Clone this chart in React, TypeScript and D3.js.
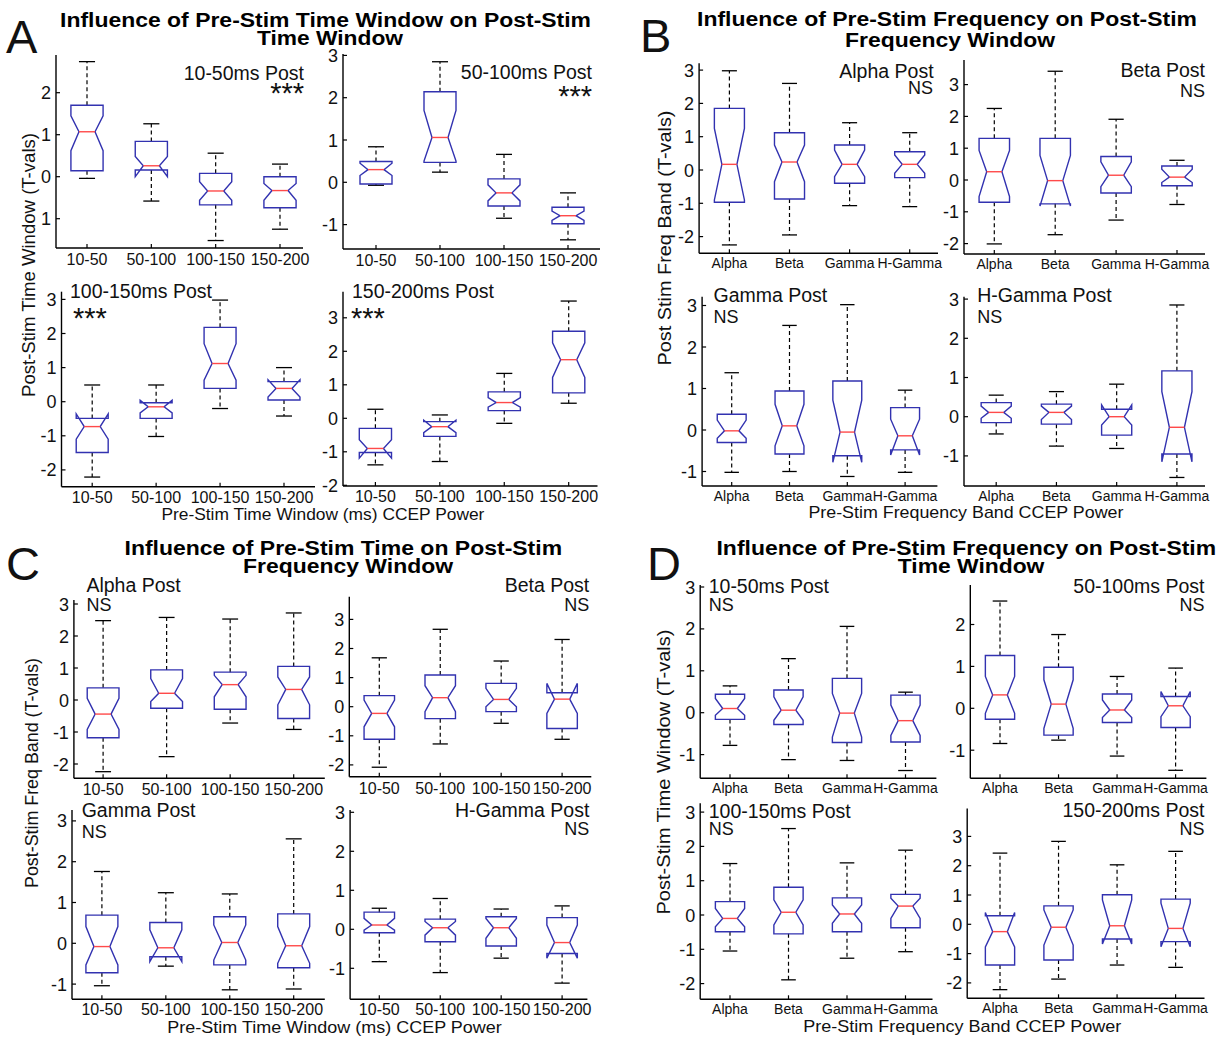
import React from 'react';
import * as d3 from 'd3';

// ---------- categories ----------
const TIME_CATS = ['10-50', '50-100', '100-150', '150-200'];
const FREQ_CATS = ['Alpha', 'Beta', 'Gamma', 'H-Gamma'];

// ---------- box statistics (T-vals) ----------
// each row: [lowWhisker, q1, notchLow, median, notchHigh, q3, highWhisker]
const A_10_50 = [
  [-0.04, 0.14, 0.62, 1.07, 1.45, 1.70, 2.74],
  [-0.58, 0.16, 0.0, 0.26, 0.48, 0.84, 1.26],
  [-1.52, -0.67, -0.56, -0.34, -0.12, 0.08, 0.56],
  [-1.25, -0.74, -0.56, -0.33, -0.16, 0.0, 0.30],
];
const A_50_100 = [
  [-0.07, -0.04, 0.16, 0.30, 0.45, 0.49, 0.84],
  [0.24, 0.47, 0.50, 1.06, 1.70, 2.14, 2.85],
  [-0.85, -0.56, -0.44, -0.25, -0.06, 0.08, 0.66],
  [-1.36, -0.98, -0.90, -0.79, -0.68, -0.59, -0.25],
];
const A_100_150 = [
  [-2.21, -1.49, -1.10, -0.73, -0.36, -0.49, 0.49],
  [-1.02, -0.49, -0.33, -0.15, 0.04, -0.03, 0.49],
  [-0.20, 0.39, 0.63, 1.12, 1.70, 2.18, 2.98],
  [-0.42, 0.05, 0.14, 0.39, 0.64, 0.59, 1.00],
];
const A_150_200 = [
  [-1.39, -1.02, -1.19, -0.90, -0.64, -0.30, 0.27],
  [-1.29, -0.54, -0.43, -0.25, -0.06, -0.10, 0.10],
  [-0.15, 0.23, 0.33, 0.47, 0.62, 0.79, 1.34],
  [0.45, 0.76, 1.22, 1.75, 2.25, 2.60, 3.50],
];
const B_ALPHA = [
  [-2.25, -0.97, -0.90, 0.17, 1.25, 1.85, 2.98],
  [-1.95, -0.87, -0.35, 0.24, 0.75, 1.12, 2.60],
  [-1.07, -0.40, -0.20, 0.17, 0.60, 0.75, 1.42],
  [-1.10, -0.23, -0.10, 0.17, 0.45, 0.55, 1.12],
];
const B_BETA = [
  [-2.01, -0.70, -0.52, 0.26, 0.93, 1.31, 2.25],
  [-1.72, -0.75, -0.82, -0.02, 0.77, 1.31, 3.42],
  [-1.26, -0.41, -0.21, 0.15, 0.57, 0.74, 1.91],
  [-0.77, -0.18, -0.08, 0.09, 0.34, 0.44, 0.62],
];
const B_GAMMA = [
  [-1.02, -0.30, -0.20, -0.02, 0.24, 0.38, 1.38],
  [-1.00, -0.58, -0.38, 0.10, 0.62, 0.94, 2.52],
  [-1.12, -0.62, -0.78, -0.05, 0.72, 1.18, 3.02],
  [-1.02, -0.48, -0.60, -0.14, 0.26, 0.54, 0.96],
];
const B_HGAMMA = [
  [-0.44, -0.15, -0.04, 0.11, 0.27, 0.36, 0.55],
  [-0.75, -0.19, -0.07, 0.11, 0.27, 0.32, 0.64],
  [-0.81, -0.47, -0.21, 0.0, 0.30, 0.19, 0.83],
  [-1.55, -0.95, -1.15, -0.27, 0.64, 1.17, 2.85],
];
const C_ALPHA = [
  [-2.24, -1.18, -0.92, -0.44, 0.05, 0.38, 2.48],
  [-1.77, -0.26, -0.05, 0.21, 0.67, 0.94, 2.58],
  [-0.72, -0.29, 0.10, 0.48, 0.77, 0.87, 2.53],
  [-0.92, -0.58, -0.15, 0.33, 0.72, 1.05, 2.72],
];
const C_BETA = [
  [-2.08, -1.12, -0.69, -0.23, 0.23, 0.38, 1.68],
  [-1.28, -0.41, -0.17, 0.31, 0.72, 1.09, 2.66],
  [-0.57, -0.17, 0.0, 0.25, 0.63, 0.80, 1.57],
  [-1.12, -0.75, -0.23, 0.26, 0.80, 0.48, 2.31],
];
const C_GAMMA = [
  [-1.04, -0.72, -0.53, -0.08, 0.41, 0.69, 1.76],
  [-0.56, -0.33, -0.45, -0.11, 0.33, 0.51, 1.24],
  [-1.14, -0.53, -0.41, 0.02, 0.45, 0.65, 1.21],
  [-1.12, -0.60, -0.49, -0.06, 0.41, 0.72, 2.56],
];
const C_HGAMMA = [
  [-0.83, -0.09, -0.02, 0.11, 0.28, 0.44, 0.54],
  [-1.11, -0.32, -0.15, 0.04, 0.20, 0.26, 0.79],
  [-0.74, -0.43, -0.23, 0.04, 0.28, 0.32, 0.52],
  [-1.38, -0.62, -0.74, -0.34, 0.11, 0.30, 0.60],
];
const D_10_50 = [
  [-0.78, -0.16, -0.06, 0.10, 0.34, 0.44, 0.64],
  [-1.12, -0.28, -0.18, 0.06, 0.38, 0.54, 1.29],
  [-1.14, -0.71, -0.58, -0.01, 0.46, 0.82, 2.06],
  [-1.38, -0.70, -0.54, -0.19, 0.18, 0.42, 0.49],
];
const D_50_100 = [
  [-0.84, -0.26, -0.12, 0.32, 0.76, 1.26, 2.56],
  [-0.76, -0.64, -0.48, 0.10, 0.68, 0.98, 1.76],
  [-1.14, -0.34, -0.22, -0.04, 0.20, 0.34, 0.76],
  [-1.48, -0.46, -0.20, 0.06, 0.40, 0.28, 0.96],
];
const D_100_150 = [
  [-1.05, -0.49, -0.34, -0.10, 0.19, 0.39, 1.50],
  [-1.89, -0.55, -0.29, 0.08, 0.44, 0.81, 2.52],
  [-1.26, -0.49, -0.24, 0.03, 0.29, 0.50, 1.52],
  [-1.07, -0.37, -0.10, 0.26, 0.49, 0.60, 1.89],
];
const D_150_200 = [
  [-2.23, -1.39, -0.77, -0.25, 0.40, 0.29, 2.43],
  [-1.87, -1.22, -0.71, -0.10, 0.49, 0.63, 2.83],
  [-1.39, -0.50, -0.67, -0.05, 0.83, 1.01, 2.03],
  [-1.47, -0.59, -0.77, -0.14, 0.72, 0.86, 2.49],
];

// ---------- text ----------
const PANEL_TITLES = [
  ['Influence of Pre-Stim Time Window on Post-Stim', 'Time Window'],
  ['Influence of Pre-Stim Frequency on Post-Stim', 'Frequency Window'],
  ['Influence of Pre-Stim Time on Post-Stim', 'Frequency Window'],
  ['Influence of Pre-Stim Frequency on Post-Stim', 'Time Window'],
];
const PANEL_LETTERS = ['A', 'B', 'C', 'D'];
const X_LABELS = [
  'Pre-Stim Time Window (ms) CCEP Power',
  'Pre-Stim Frequency Band CCEP Power',
  'Pre-Stim Time Window (ms) CCEP Power',
  'Pre-Stim Frequency Band CCEP Power',
];
const Y_LABELS = [
  'Post-Stim Time Window (T-vals)',
  'Post Stim Freq Band (T-vals)',
  'Post-Stim Freq Band (T-vals)',
  'Post-Stim Time Window (T-vals)',
];

// ---------- layout (pixels) ----------
type Sub = {
  data: number[][]; cats: string[]; label: string; sig: string;
  axL: number; axR: number; top: number; bottom: number; c1: number; c4: number;
  y0: number; ppu: number; anchor: 'start' | 'end'; lx: number; ly: number; sx: number; sy: number;
  tfs: number; tdy: number; sigBig: boolean; hideMinus?: boolean;
};

const SUBS: Sub[] = [
  { data: A_10_50, cats: TIME_CATS, label: '10-50ms Post', sig: '***', axL: 56, axR: 303, top: 55, bottom: 248, c1: 87, c4: 280, y0: 176.7, ppu: 42, anchor: 'end', lx: 304, ly: 80, sx: 304, sy: 103, tfs: 16, tdy: 17, sigBig: true, hideMinus: true },
  { data: A_50_100, cats: TIME_CATS, label: '50-100ms Post', sig: '***', axL: 343, axR: 600, top: 54, bottom: 249, c1: 376, c4: 568, y0: 182.3, ppu: 42.3, anchor: 'end', lx: 592, ly: 79, sx: 592, sy: 105.5, tfs: 16, tdy: 17, sigBig: true },
  { data: A_100_150, cats: TIME_CATS, label: '100-150ms Post', sig: '***', axL: 61.5, axR: 315, top: 291.7, bottom: 486.7, c1: 92.2, c4: 284, y0: 401.7, ppu: 34.1, anchor: 'start', lx: 70, ly: 298, sx: 73, sy: 327.5, tfs: 16, tdy: 16, sigBig: true },
  { data: A_150_200, cats: TIME_CATS, label: '150-200ms Post', sig: '***', axL: 343, axR: 597.5, top: 291.7, bottom: 486, c1: 375.4, c4: 568.7, y0: 418.3, ppu: 33.5, anchor: 'start', lx: 352, ly: 298, sx: 351, sy: 328, tfs: 16, tdy: 16, sigBig: true },

  { data: B_ALPHA, cats: FREQ_CATS, label: 'Alpha Post', sig: 'NS', axL: 699.1, axR: 938, top: 63.3, bottom: 253.3, c1: 729.4, c4: 909.7, y0: 170, ppu: 33.3, anchor: 'end', lx: 933.6, ly: 78.3, sx: 933, sy: 94, tfs: 14, tdy: 15, sigBig: false },
  { data: B_BETA, cats: FREQ_CATS, label: 'Beta Post', sig: 'NS', axL: 964, axR: 1205, top: 60, bottom: 254, c1: 994.3, c4: 1177, y0: 180, ppu: 31.8, anchor: 'end', lx: 1205, ly: 77, sx: 1205, sy: 96.7, tfs: 14, tdy: 15, sigBig: false },
  { data: B_GAMMA, cats: FREQ_CATS, label: 'Gamma Post', sig: 'NS', axL: 702.1, axR: 937.4, top: 296.7, bottom: 486, c1: 731.7, c4: 905.1, y0: 430, ppu: 41.5, anchor: 'start', lx: 713.5, ly: 301.7, sx: 713.5, sy: 323.3, tfs: 14, tdy: 15, sigBig: false },
  { data: B_HGAMMA, cats: FREQ_CATS, label: 'H-Gamma Post', sig: 'NS', axL: 964, axR: 1205, top: 296.7, bottom: 486, c1: 996.2, c4: 1176.9, y0: 416.7, ppu: 39.2, anchor: 'start', lx: 977.2, ly: 301.7, sx: 977.2, sy: 323.3, tfs: 14, tdy: 15, sigBig: false },

  { data: C_ALPHA, cats: TIME_CATS, label: 'Alpha Post', sig: 'NS', axL: 73.9, axR: 324.8, top: 600, bottom: 778.3, c1: 103.1, c4: 293.7, y0: 700, ppu: 32, anchor: 'start', lx: 86.4, ly: 591.7, sx: 86.4, sy: 610.7, tfs: 16, tdy: 17, sigBig: false },
  { data: C_BETA, cats: TIME_CATS, label: 'Beta Post', sig: 'NS', axL: 349.3, axR: 591.3, top: 596.7, bottom: 776.7, c1: 379.3, c4: 562.1, y0: 706.7, ppu: 29.1, anchor: 'end', lx: 589.3, ly: 591.7, sx: 589.3, sy: 610.7, tfs: 16, tdy: 17, sigBig: false },
  { data: C_GAMMA, cats: TIME_CATS, label: 'Gamma Post', sig: 'NS', axL: 72, axR: 324.8, top: 810, bottom: 999.3, c1: 101.9, c4: 293.7, y0: 943.3, ppu: 40.8, anchor: 'start', lx: 81.7, ly: 817.3, sx: 81.7, sy: 838.3, tfs: 16, tdy: 15.5, sigBig: false },
  { data: C_HGAMMA, cats: TIME_CATS, label: 'H-Gamma Post', sig: 'NS', axL: 350.1, axR: 587.4, top: 810, bottom: 999.3, c1: 379.3, c4: 562.1, y0: 929.3, ppu: 39, anchor: 'end', lx: 589.3, ly: 817, sx: 589.3, sy: 835, tfs: 16, tdy: 15.5, sigBig: false },

  { data: D_10_50, cats: FREQ_CATS, label: '10-50ms Post', sig: 'NS', axL: 700.2, axR: 936.4, top: 585, bottom: 778.3, c1: 730, c4: 905.5, y0: 712.7, ppu: 41.9, anchor: 'start', lx: 708.7, ly: 593.3, sx: 708.7, sy: 611, tfs: 14, tdy: 15, sigBig: false },
  { data: D_50_100, cats: FREQ_CATS, label: '50-100ms Post', sig: 'NS', axL: 970.3, axR: 1206.4, top: 585, bottom: 778.3, c1: 1000, c4: 1175.6, y0: 708.3, ppu: 41.9, anchor: 'end', lx: 1204.5, ly: 593.3, sx: 1204.5, sy: 611, tfs: 14, tdy: 15, sigBig: false },
  { data: D_100_150, cats: FREQ_CATS, label: '100-150ms Post', sig: 'NS', axL: 700.2, axR: 932.5, top: 803.3, bottom: 999.3, c1: 730, c4: 905.5, y0: 915, ppu: 34.3, anchor: 'start', lx: 708.7, ly: 818.3, sx: 708.7, sy: 835, tfs: 14, tdy: 14.5, sigBig: false },
  { data: D_150_200, cats: FREQ_CATS, label: '150-200ms Post', sig: 'NS', axL: 967.2, axR: 1204.5, top: 808.6, bottom: 998.3, c1: 1000, c4: 1175.6, y0: 924.3, ppu: 29.3, anchor: 'end', lx: 1204.5, ly: 817.3, sx: 1204.5, sy: 835, tfs: 14, tdy: 14.5, sigBig: false },
];

const TITLE_POS = [
  { x1: 60, y1: 27, l1: 531, x2: 257, y2: 45, l2: 146 },
  { x1: 697, y1: 26, l1: 500, x2: 845, y2: 47, l2: 210 },
  { x1: 124.5, y1: 555, l1: 437.6, x2: 243, y2: 573, l2: 210 },
  { x1: 716.5, y1: 555, l1: 499.6, x2: 897.8, y2: 573.3, l2: 146.6 },
];
const LETTER_POS = [
  { x: 6, y: 53 }, { x: 640, y: 52 }, { x: 6, y: 580 }, { x: 647, y: 580 },
];
const XLABEL_POS = [
  { x: 161.4, y: 520, len: 323 }, { x: 808.4, y: 518, len: 315 },
  { x: 167.3, y: 1032.5, len: 334.5 }, { x: 803.3, y: 1031.5, len: 318 },
];
const YLABEL_POS = [
  { x: 34.5, cy: 265, len: 264 }, { x: 671, cy: 238, len: 255 },
  { x: 38, cy: 773, len: 230 }, { x: 670, cy: 772, len: 285 },
];

const FONT = "'Liberation Sans', Arial, Helvetica, sans-serif";
const BOX_COLOR = '#3232b0';
const MED_COLOR = '#ff4a4a';

function Subplot({ s }: { s: Sub }) {
  const yMin = (s.y0 - s.bottom) / s.ppu;
  const yMax = (s.y0 - s.top) / s.ppu;
  const y = d3.scaleLinear().domain([yMin, yMax]).range([s.bottom, s.top]);
  const x = d3.scalePoint<string>().domain(s.cats).range([s.c1, s.c4]);
  const step = (s.c4 - s.c1) / (s.cats.length - 1);
  const w = 0.25 * step;
  const yTicks = d3.range(Math.ceil(yMin), Math.floor(yMax) + 1);
  const line = d3.line();

  return (
    <g>
      <line x1={s.axL} x2={s.axL} y1={s.top} y2={s.bottom} stroke="#000" strokeWidth={1.4} />
      <line x1={s.axL} x2={s.axR} y1={s.bottom} y2={s.bottom} stroke="#000" strokeWidth={1.4} />
      {yTicks.map((t) => (
        <g key={'y' + t}>
          <line x1={s.axL} x2={s.axL + 4} y1={y(t)} y2={y(t)} stroke="#000" strokeWidth={1.2} />
          <text x={s.axL - 5} y={y(t) + 6.5} textAnchor="end" fontSize={18} fontFamily={FONT} fill="#111">
            {s.hideMinus && t < 0 ? String(-t) : String(t)}
          </text>
        </g>
      ))}
      {s.cats.map((c) => (
        <g key={'x' + c}>
          <line x1={x(c)} x2={x(c)} y1={s.bottom} y2={s.bottom - 4} stroke="#000" strokeWidth={1.2} />
          <text x={x(c)} y={s.bottom + s.tdy} textAnchor="middle" fontSize={s.tfs} fontFamily={FONT} fill="#111">{c}</text>
        </g>
      ))}
      {s.data.map((d, i) => {
        const [lo, q1, nLo, med, nHi, q3, hi] = d;
        const cx = x(s.cats[i]) as number;
        const pts: [number, number][] = [
          [cx - w, y(q1)], [cx - w, y(nLo)], [cx - w / 2, y(med)], [cx - w, y(nHi)], [cx - w, y(q3)],
          [cx + w, y(q3)], [cx + w, y(nHi)], [cx + w / 2, y(med)], [cx + w, y(nLo)], [cx + w, y(q1)],
        ];
        return (
          <g key={'b' + i}>
            <line x1={cx} x2={cx} y1={y(q3)} y2={y(hi)} stroke="#000" strokeWidth={1.2} strokeDasharray="4,3" />
            <line x1={cx} x2={cx} y1={y(q1)} y2={y(lo)} stroke="#000" strokeWidth={1.2} strokeDasharray="4,3" />
            <line x1={cx - w / 2} x2={cx + w / 2} y1={y(hi)} y2={y(hi)} stroke="#000" strokeWidth={1.3} />
            <line x1={cx - w / 2} x2={cx + w / 2} y1={y(lo)} y2={y(lo)} stroke="#000" strokeWidth={1.3} />
            <path d={(line(pts) || '') + 'Z'} fill="none" stroke={BOX_COLOR} strokeWidth={1.4} />
            <line x1={cx - w / 2} x2={cx + w / 2} y1={y(med)} y2={y(med)} stroke={MED_COLOR} strokeWidth={1.4} />
          </g>
        );
      })}
      <text x={s.lx} y={s.ly} textAnchor={s.anchor} fontSize={19.5} fontFamily={FONT} fill="#111">{s.label}</text>
      <text x={s.sx} y={s.sy} textAnchor={s.anchor} fontSize={s.sigBig ? 29 : 18} fontFamily={FONT} fill="#111">{s.sig}</text>
    </g>
  );
}

export default function App() {
  return (
    <svg width={1225} height={1038} style={{ position: 'absolute', left: 0, top: 0, background: '#fff' }}
      xmlns="http://www.w3.org/2000/svg">
      <rect x={0} y={0} width={1225} height={1038} fill="#fff" />
      {SUBS.map((s, i) => <Subplot key={i} s={s} />)}
      {PANEL_TITLES.map((t, i) => (
        <g key={'t' + i} fontFamily={FONT} fontWeight="bold" fontSize={19.5} fill="#000">
          <text x={TITLE_POS[i].x1} y={TITLE_POS[i].y1} textLength={TITLE_POS[i].l1} lengthAdjust="spacingAndGlyphs">{t[0]}</text>
          <text x={TITLE_POS[i].x2} y={TITLE_POS[i].y2} textLength={TITLE_POS[i].l2} lengthAdjust="spacingAndGlyphs">{t[1]}</text>
        </g>
      ))}
      {PANEL_LETTERS.map((l, i) => (
        <text key={'l' + i} x={LETTER_POS[i].x} y={LETTER_POS[i].y} fontSize={47} fontFamily={FONT} fill="#111">{l}</text>
      ))}
      {X_LABELS.map((l, i) => (
        <text key={'xl' + i} x={XLABEL_POS[i].x} y={XLABEL_POS[i].y} textLength={XLABEL_POS[i].len}
          lengthAdjust="spacingAndGlyphs" fontSize={17} fontFamily={FONT} fill="#111">{l}</text>
      ))}
      {Y_LABELS.map((l, i) => (
        <text key={'yl' + i} transform={`translate(${YLABEL_POS[i].x},${YLABEL_POS[i].cy}) rotate(-90)`}
          x={-YLABEL_POS[i].len / 2} y={0} textLength={YLABEL_POS[i].len} lengthAdjust="spacingAndGlyphs"
          fontSize={18} fontFamily={FONT} fill="#111">{l}</text>
      ))}
    </svg>
  );
}
